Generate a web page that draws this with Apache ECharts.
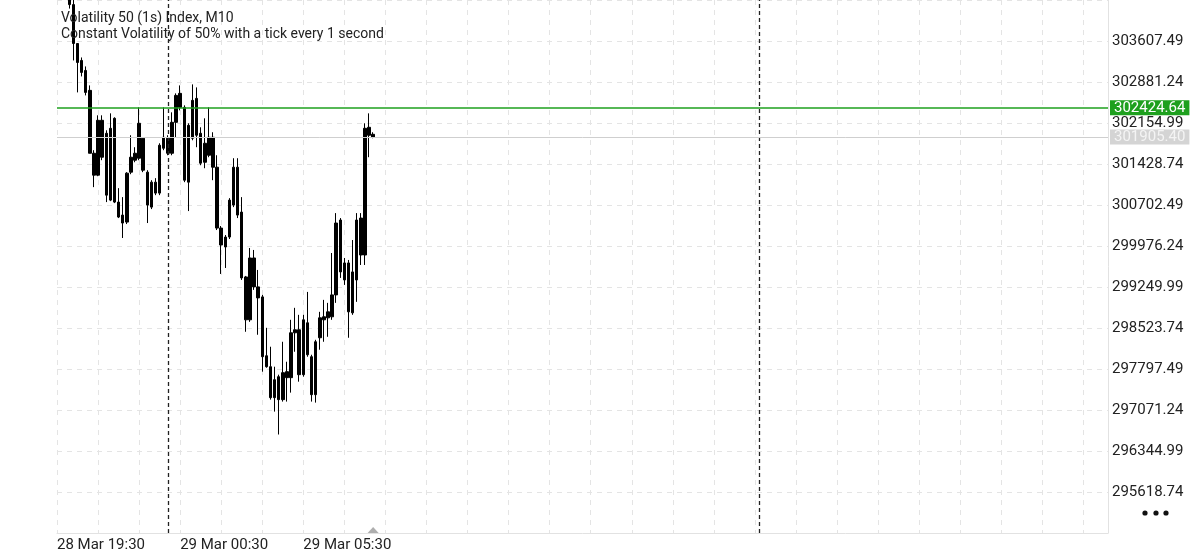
<!DOCTYPE html>
<html><head><meta charset="utf-8">
<script src="https://cdn.jsdelivr.net/npm/echarts@6/dist/echarts.min.js"></script>
<style>html,body{margin:0;padding:0;background:#fff}#c{width:1200px;height:554px}</style>
</head><body><div id="c"></div>
<script>
// ---- data ----
const titleLine1 = 'Volatility 50 (1s) Index, M10';
const titleLine2 = 'Constant Volatility of 50% with a tick every 1 second';

// x axis: slot = number of 10-minute bars after 28 Mar 19:30
const tickSlots = [0, 30, 60];
const tickLabels = ['28 Mar 19:30', '29 Mar 00:30', '29 Mar 05:30'];
const firstSlot = 3;            // first visible bar: 28 Mar 20:00
const daySeparators = [27, 171]; // 29 Mar 00:00, 30 Mar 00:00

const opens = [304500,304252,303563,303263,303086,302733,301619,301231,302203,301973,300789,302238,300754,300524,300400,301284,301496,301531,301885,301284,300665,301107,300913,301708,301885,301619,302167,302680,302432,301107,301885,302591,301973,301460,301584,301902,301372,300294,299959,300135,300701,301372,300577,299428,298669,299764,299252,299075,298032,297838,297290,297661,297255,297750,297644,298439,298492,297697,298616,298015,297343,298351,298669,298704,298722,299110,300436,299676,299676,298792,299375,300471,299817,302079,301955];
const closes = [304252,303563,303227,303051,302697,301619,301231,302203,301549,300877,302061,300754,300489,300383,301266,301549,301619,302150,301319,300701,301107,300913,301761,301902,301619,302167,302644,302432,301142,302114,302556,301938,301443,301796,301902,301372,300294,299994,300135,300789,301372,300524,299411,298669,299764,299252,299057,298015,297838,297290,297608,297255,297732,297644,298439,298492,297697,298669,298050,297343,298280,298704,298722,298810,299110,300383,299517,299375,298810,299517,300436,299817,302061,301938,301905.40];
const lows = [304182,303263,302697,302980,302644,301619,301019,301213,301496,300754,300771,300736,300471,300118,300365,301248,301460,301496,301284,300383,300630,300877,300877,301673,301584,301584,301902,302379,301107,300595,301849,301726,301407,301354,301549,301142,300259,299481,299587,300100,300665,300471,299375,298457,298633,299199,298404,297750,297820,297255,297043,296637,297220,297220,297379,298103,297573,297661,298015,297220,297202,298139,298280,298368,298669,298969,299411,299287,298351,298757,298987,299640,299640,301549,301885];
const highs = [304765,304464,303563,303316,303157,302821,301673,302291,302291,302026,302326,302256,301001,300842,301284,301938,301726,302432,301902,301319,301142,301178,301796,302432,301938,302344,302680,302821,302468,302150,302839,302786,302079,302238,302432,301991,301584,300330,300171,300824,301531,301531,300842,299446,299941,299906,299552,299110,298527,298192,297838,297697,298280,297926,298669,298881,298757,298757,299163,298050,298315,298810,299022,298969,299852,300559,300471,299764,299729,300082,300559,300559,302150,302326,301991];

const levelPrice = 302424.64;  // green horizontal line
const lastPrice = 301905.40;   // grey bid line

// y axis ticks
const yMin = 294892.49, yStep = 726.25, yMax = 304333.74;

// ---- chart ----
const labelMap = {};
tickSlots.forEach((s, i) => { labelMap[s] = tickLabels[i]; });
const candleData = opens.map((o, i) => [firstSlot + i, o, closes[i], lows[i], highs[i]]);
const lastSlot = firstSlot + opens.length - 1;

const chart = echarts.init(document.getElementById('c'), null, {renderer: 'canvas'});
const FONT = 'Roboto';
chart.setOption({
  animation: false,
  backgroundColor: '#ffffff',
  grid: {left: 57, right: 92, top: 0, bottom: 21, containLabel: false},
  xAxis: {
    type: 'value', min: 0, max: 256, interval: 10,
    axisLine: {show: true, onZero: false, lineStyle: {color: '#e2e2e2', width: 1}},
    axisTick: {show: false},
    axisLabel: {
      formatter: v => labelMap[v] || '', align: 'left', color: '#222', fontSize: 15,
      fontFamily: FONT, margin: 5, showMaxLabel: false, showMinLabel: true
    },
    splitLine: {show: true, lineStyle: {color: '#e4e4e4', type: [5, 5], width: 1}}
  },
  yAxis: {
    type: 'value', position: 'right', min: yMin, max: yMax, interval: yStep,
    axisLine: {show: true, onZero: false, lineStyle: {color: '#e2e2e2', width: 1}},
    axisTick: {show: false},
    axisLabel: {
      showMinLabel: false, showMaxLabel: false, formatter: v => v.toFixed(2),
      color: '#222', fontSize: 15, fontFamily: FONT, margin: 4
    },
    splitLine: {show: true, lineStyle: {color: '#e4e4e4', type: [5, 5], width: 1}}
  },
  series: [
    {
      type: 'candlestick',
      data: candleData,
      encode: {x: 0, y: [1, 2, 3, 4]},
      barWidth: 3,
      itemStyle: {color: '#000', color0: '#000', borderColor: '#000', borderColor0: '#000', borderWidth: 1},
      markLine: {
        silent: true, symbol: ['none', 'none'], animation: false,
        data: [
          {xAxis: daySeparators[0], lineStyle: {color: '#222', type: [4, 3], width: 1.3}, label: {show: false}},
          {xAxis: daySeparators[1], lineStyle: {color: '#222', type: [4, 3], width: 1.3}, label: {show: false}},
          {yAxis: lastPrice, lineStyle: {color: '#cfcfcf', type: 'solid', width: 1},
            label: {show: true, position: 'end', distance: 2, formatter: () => lastPrice.toFixed(2),
              backgroundColor: '#d4d4d4', color: '#f4f4f4', fontSize: 15, fontFamily: FONT, padding: [0, 4, 0, 4]}},
          {yAxis: levelPrice, lineStyle: {color: '#1ea01e', type: 'solid', width: 1.5},
            label: {show: true, position: 'end', distance: 2, formatter: () => levelPrice.toFixed(2),
              backgroundColor: '#1ea01e', color: '#ffffff', fontSize: 15, fontFamily: FONT, padding: [0, 4, 0, 4]}}
        ]
      }
    },
    {
      type: 'scatter', clip: false, silent: true,
      data: [[lastSlot, yMin]],
      symbol: 'triangle', symbolSize: [11, 6], symbolOffset: [0, -3],
      itemStyle: {color: '#9a9a9a'}, z: 5
    }
  ],
  graphic: [
    {type: 'text', left: 61, top: 11, z: 100, style: {text: titleLine1, font: '14px ' + FONT, fill: '#222'}},
    {type: 'text', left: 61, top: 27, z: 100, style: {text: titleLine2, font: '14px ' + FONT, fill: '#222'}},
    {type: 'circle', shape: {cx: 1145, cy: 513, r: 2.6}, style: {fill: '#111'}},
    {type: 'circle', shape: {cx: 1156, cy: 513, r: 2.6}, style: {fill: '#111'}},
    {type: 'circle', shape: {cx: 1166, cy: 513, r: 2.6}, style: {fill: '#111'}}
  ]
});
</script>
</body></html>
